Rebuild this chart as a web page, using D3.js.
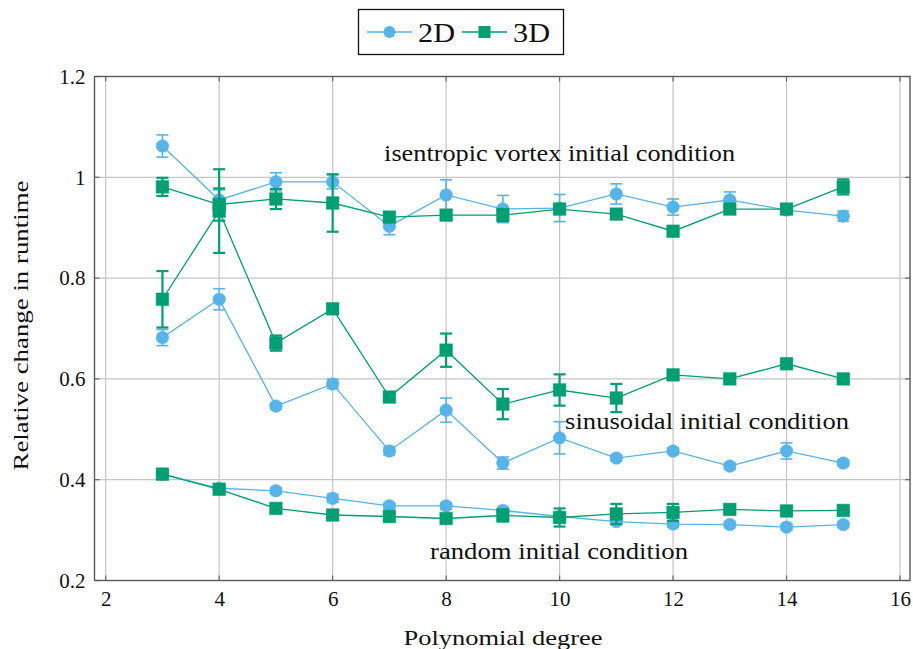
<!DOCTYPE html>
<html>
<head>
<meta charset="utf-8">
<script src="https://cdn.jsdelivr.net/npm/d3@7"></script>
<style>
  html, body { margin: 0; padding: 0; background: #fff; }
  svg { display: block; }
  text { font-family: "Liberation Serif", "Times New Roman", serif; fill: #111; }
</style>
</head>
<body>
<svg id="chart" width="913" height="649"></svg>
<script>
// Polynomial degrees on the x axis
const degrees = [3, 4, 5, 6, 7, 8, 9, 10, 11, 12, 13, 14, 15];

// Isentropic vortex initial condition
const iso2D    = [1.062, 0.955, 0.991, 0.991, 0.903, 0.965, 0.937, 0.939, 0.967, 0.941, 0.955, 0.935, 0.923];
const iso2DErr = [0.022, 0.020, 0.018, 0.014, 0.017, 0.030, 0.027, 0.027, 0.020, 0.016, 0.016, 0.008, 0.010];
const iso3D    = [0.981, 0.946, 0.957, 0.949, 0.921, 0.925, 0.925, 0.937, 0.927, 0.893, 0.937, 0.937, 0.981];
const iso3DErr = [0.018, 0.032, 0.020, 0.057, 0.006, 0.006, 0.012, 0.008, 0.006, 0.006, 0.006, 0.006, 0.015];

// Sinusoidal initial condition
const sin2D    = [0.682, 0.758, 0.546, 0.590, 0.457, 0.538, 0.433, 0.483, 0.443, 0.457, 0.427, 0.457, 0.433];
const sin2DErr = [0.016, 0.021, 0.006, 0.009, 0.008, 0.024, 0.012, 0.032, 0.006, 0.006, 0.006, 0.016, 0.006];
const sin3D    = [0.758, 0.933, 0.671, 0.739, 0.564, 0.657, 0.550, 0.578, 0.562, 0.608, 0.600, 0.630, 0.600];
const sin3DErr = [0.056, 0.083, 0.015, 0.006, 0.006, 0.033, 0.030, 0.031, 0.028, 0.006, 0.006, 0.006, 0.006];

// Random initial condition
const rnd2D    = [0.411, 0.383, 0.378, 0.363, 0.348, 0.348, 0.339, 0.327, 0.317, 0.312, 0.311, 0.306, 0.311];
const rnd2DErr = [0.006, 0.006, 0.006, 0.008, 0.006, 0.006, 0.006, 0.006, 0.006, 0.006, 0.006, 0.006, 0.006];
const rnd3D    = [0.411, 0.381, 0.343, 0.330, 0.327, 0.323, 0.329, 0.325, 0.332, 0.335, 0.341, 0.338, 0.339];
const rnd3DErr = [0.006, 0.006, 0.006, 0.006, 0.006, 0.006, 0.012, 0.018, 0.020, 0.017, 0.006, 0.006, 0.006];

// Axis ticks
const xTicks = [2, 4, 6, 8, 10, 12, 14, 16];
const yTicks = [0.2, 0.4, 0.6, 0.8, 1.0, 1.2];
const yTickLabels = ["0.2", "0.4", "0.6", "0.8", "1", "1.2"];

const seriesNames = ["2D", "3D"];
const colors = { "2D": "#56B4E9", "3D": "#009E73" };

const groupLabels = [
  { text: "isentropic vortex initial condition", x: 10.0, y: 1.033 },
  { text: "sinusoidal initial condition", x: 12.6, y: 0.5 },
  { text: "random initial condition", x: 9.99, y: 0.242 }
];

const groups = [
  { d2: iso2D, e2: iso2DErr, d3: iso3D, e3: iso3DErr },
  { d2: sin2D, e2: sin2DErr, d3: sin3D, e3: sin3DErr },
  { d2: rnd2D, e2: rnd2DErr, d3: rnd3D, e3: rnd3DErr }
];

const svg = d3.select("#chart");
const frame = { left: 94.5, right: 910, top: 76.5, bottom: 580.5 };

const x = d3.scaleLinear().domain([2, 16]).range([105.7, 900]);
const y = d3.scaleLinear().domain([0.2, 1.2]).range([frame.bottom, frame.top]);

// Grid lines
const grid = svg.append("g");
grid.selectAll("line.vx").data(xTicks).join("line")
  .attr("x1", d => x(d)).attr("x2", d => x(d))
  .attr("y1", frame.top).attr("y2", frame.bottom)
  .attr("stroke", "#c6c6c6").attr("stroke-width", 1.2);
grid.selectAll("line.hy").data(yTicks).join("line")
  .attr("x1", frame.left).attr("x2", frame.right)
  .attr("y1", d => y(d)).attr("y2", d => y(d))
  .attr("stroke", "#c6c6c6").attr("stroke-width", 1.2);

// Inner tick marks on all four sides
const tk = svg.append("g").attr("stroke", "#6a6a6a").attr("stroke-width", 1.2);
xTicks.forEach(v => {
  tk.append("line").attr("x1", x(v)).attr("x2", x(v)).attr("y1", frame.bottom).attr("y2", frame.bottom - 5);
  tk.append("line").attr("x1", x(v)).attr("x2", x(v)).attr("y1", frame.top).attr("y2", frame.top + 5);
});
yTicks.forEach(v => {
  tk.append("line").attr("x1", frame.left).attr("x2", frame.left + 5).attr("y1", y(v)).attr("y2", y(v));
  tk.append("line").attr("x1", frame.right).attr("x2", frame.right - 5).attr("y1", y(v)).attr("y2", y(v));
});

// Tick labels through d3 axes
const xAxis = svg.append("g")
  .attr("transform", `translate(0,${frame.bottom})`)
  .call(d3.axisBottom(x).tickValues(xTicks).tickSize(0).tickPadding(10).tickFormat(d3.format("d")));
xAxis.select(".domain").remove();
xAxis.selectAll("text").attr("font-size", 21).attr("fill", "#111").attr("dy", "0.72em");

const yAxis = svg.append("g")
  .attr("transform", `translate(${frame.left},0)`)
  .call(d3.axisLeft(y).tickValues(yTicks).tickSize(0).tickPadding(9).tickFormat((d, i) => yTickLabels[i]));
yAxis.select(".domain").remove();
yAxis.selectAll("text").attr("font-size", 21).attr("fill", "#111");

// Frame
svg.append("rect")
  .attr("x", frame.left).attr("y", frame.top)
  .attr("width", frame.right - frame.left).attr("height", frame.bottom - frame.top)
  .attr("fill", "none").attr("stroke", "#5a5a5a").attr("stroke-width", 1.4);

// Axis titles
svg.append("text")
  .attr("x", 503).attr("y", 645)
  .attr("text-anchor", "middle").attr("font-size", 22)
  .attr("textLength", 199).attr("lengthAdjust", "spacingAndGlyphs")
  .text("Polynomial degree");
svg.append("text")
  .attr("transform", `translate(28,${(frame.top + frame.bottom) / 2 - 3}) rotate(-90)`)
  .attr("text-anchor", "middle").attr("font-size", 22)
  .attr("textLength", 290).attr("lengthAdjust", "spacingAndGlyphs")
  .text("Relative change in runtime");

// Series drawing
const line = d3.line().x((d, i) => x(degrees[i])).y(d => y(d));

function drawSeries(values, errs, name) {
  const c = colors[name];
  const g = svg.append("g");
  g.append("path").datum(values).attr("d", line)
    .attr("fill", "none").attr("stroke", c).attr("stroke-width", 1.3);
  const eb = g.append("g").attr("stroke", c).attr("stroke-width", name === "3D" ? 2.2 : 1.6);
  values.forEach((v, i) => {
    const cx = x(degrees[i]);
    const y1 = y(v + errs[i]), y2 = y(v - errs[i]);
    eb.append("line").attr("x1", cx).attr("x2", cx).attr("y1", y1).attr("y2", y2);
    eb.append("line").attr("x1", cx - 6).attr("x2", cx + 6).attr("y1", y1).attr("y2", y1);
    eb.append("line").attr("x1", cx - 6).attr("x2", cx + 6).attr("y1", y2).attr("y2", y2);
  });
  if (name === "2D") {
    g.selectAll("circle").data(values).join("circle")
      .attr("cx", (d, i) => x(degrees[i])).attr("cy", d => y(d)).attr("r", 6.3)
      .attr("fill", c).attr("stroke", c).attr("stroke-opacity", 0.5).attr("stroke-width", 1);
  } else {
    g.selectAll("rect").data(values).join("rect")
      .attr("x", (d, i) => x(degrees[i]) - 6.3).attr("y", d => y(d) - 6.3)
      .attr("width", 12.6).attr("height", 12.6)
      .attr("fill", c).attr("stroke", c).attr("stroke-opacity", 0.5).attr("stroke-width", 1);
  }
}

groups.forEach(gp => {
  drawSeries(gp.d2, gp.e2, "2D");
  drawSeries(gp.d3, gp.e3, "3D");
});

// Group annotations
const lw = [351, 284, 258];
groupLabels.forEach((l, i) => {
  svg.append("text")
    .attr("x", x(l.x)).attr("y", y(l.y))
    .attr("text-anchor", "middle").attr("font-size", 23)
    .attr("textLength", lw[i]).attr("lengthAdjust", "spacingAndGlyphs")
    .text(l.text);
});

// Legend
const lg = svg.append("g");
lg.append("rect").attr("x", 358.5).attr("y", 9.5).attr("width", 205).attr("height", 45)
  .attr("fill", "#fff").attr("stroke", "#111").attr("stroke-width", 1.3);
const legendX = [367, 462];
seriesNames.forEach((name, i) => {
  const x0 = legendX[i], cy = 32;
  const c = colors[name];
  lg.append("line").attr("x1", x0).attr("x2", x0 + 45).attr("y1", cy).attr("y2", cy)
    .attr("stroke", c).attr("stroke-width", 1.3);
  if (name === "2D") {
    lg.append("circle").attr("cx", x0 + 22.5).attr("cy", cy).attr("r", 6).attr("fill", c);
  } else {
    lg.append("rect").attr("x", x0 + 22.5 - 6).attr("y", cy - 6).attr("width", 12).attr("height", 12).attr("fill", c);
  }
  lg.append("text").attr("x", x0 + 51).attr("y", cy + 9.5).attr("font-size", 27)
    .attr("textLength", 37).attr("lengthAdjust", "spacingAndGlyphs")
    .text(name);
});
</script>
</body>
</html>
